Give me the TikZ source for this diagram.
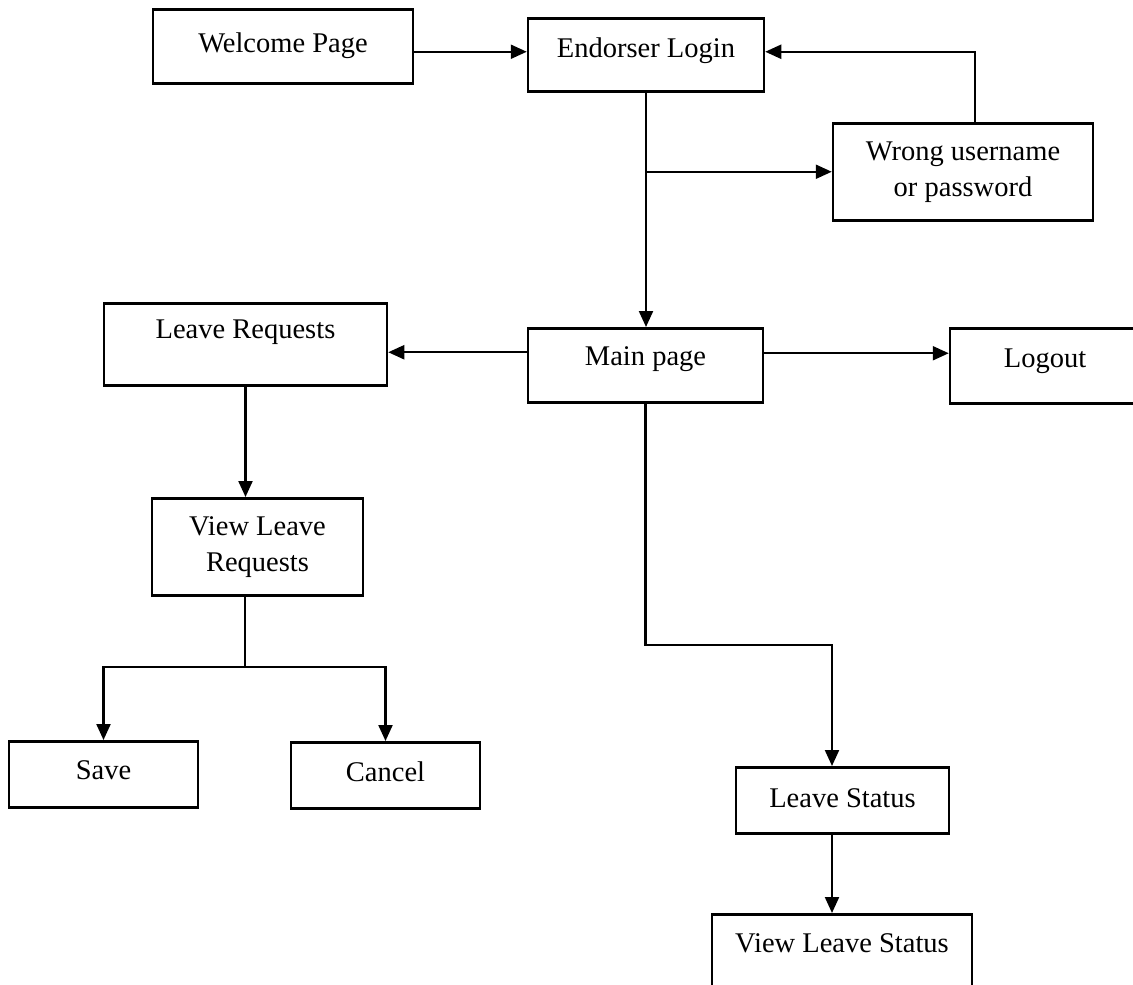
\documentclass[tikz,border=0pt]{standalone}
\usepackage{fontspec}
\setmainfont{Liberation Serif}
\usetikzlibrary{arrows.meta}
\begin{document}
\begin{tikzpicture}[x=1pt,y=-1pt,
  pg/.style={draw=black, line width=2.5pt, inner sep=0pt, anchor=north,
             font=\fontsize{28.5}{36}\selectfont},
  one/.style n args={3}{pg, minimum width=#1, text height=#2, text depth=#3},
  two/.style 2 args={pg, minimum width=#1, minimum height=#2, align=center},
  arr/.style={line width=2.2pt, -{Triangle[length=16pt,width=14pt]}},
  ln/.style={line width=2.2pt}]
\clip (0,0) rectangle (1133,985);
\fill[white] (0,0) rectangle (1133,985);

% pages
\node[one={260pt}{43pt}{31pt}] (welcome) at (283,8) {Welcome Page};
\node[one={236pt}{39pt}{34pt}] (login) at (646,17) {Endorser Login};
\node[two={260pt}{97pt}] (wrong) at (963,122) {Wrong username\\or password};
\node[one={283pt}{35pt}{47pt}] (lreq) at (245.5,302) {Leave Requests};
\node[one={235pt}{37pt}{37pt}] (main) at (645.5,327) {Main page};
\node[one={190pt}{39pt}{36pt}] (logout) at (1045,327) {Logout};
\node[two={211pt}{97pt}] (vlr) at (257.5,497) {View Leave\\Requests};
\node[one={189pt}{38pt}{28pt}] (save) at (103.5,740) {Save};
\node[one={189pt}{39pt}{27pt}] (cancel) at (385.5,741) {Cancel};
\node[one={213pt}{40pt}{26pt}] (lstat) at (842.5,766) {Leave Status};
\node[one={260pt}{38pt}{49pt}] (vls) at (842,913) {View Leave Status};

% junction points
\coordinate (split) at (245,667);
\coordinate (bend) at (832,645);
\coordinate (lin) at ([yshift=3pt]login.west);

% connectors
\draw[arr] (welcome.east |- lin) -- (lin);
\draw[arr] (login.south) -- (login.south |- main.north);
\draw[arr] (login.south |- wrong.west) -- (wrong.west);
\draw[arr] ([xshift=12pt]wrong.north) |- ([yshift=3pt]login.east);
\draw[arr] ([yshift=13pt]main.west) coordinate (mw) -- (mw -| lreq.east);
\draw[arr] ([yshift=12pt]main.east) coordinate (me) -- (me -| logout.west);
\draw[arr] (lreq.south) -- (lreq.south |- vlr.north);
\draw[ln] (vlr.south -| split) -- (split);
\draw[arr] (split) -| (save.north);
\draw[arr] (split) -| (cancel.north);
\draw[arr] (main.south) |- (bend) -- (bend |- lstat.north);
\draw[arr] (bend |- lstat.south) -- (bend |- vls.north);
\end{tikzpicture}
\end{document}
